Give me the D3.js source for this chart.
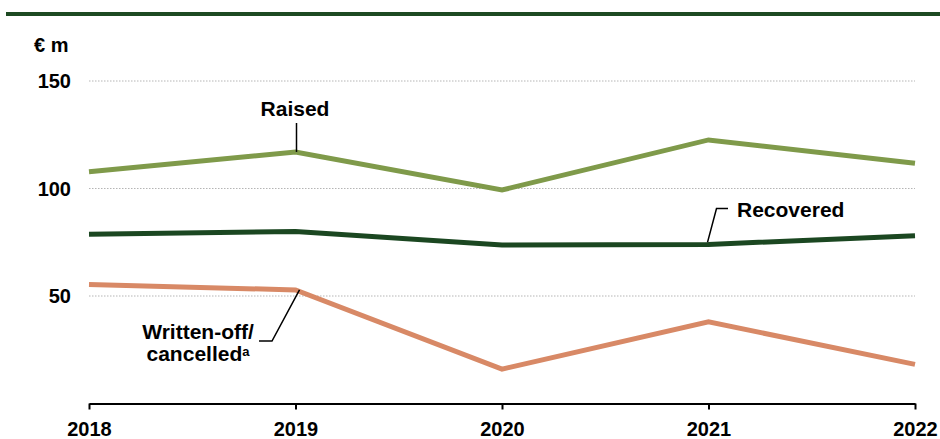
<!DOCTYPE html>
<html><head><meta charset="utf-8">
<script src="https://cdn.jsdelivr.net/npm/d3@7"></script>
<style>
body{margin:0;background:#fff;}
svg text{font-family:"Liberation Sans",Arial,sans-serif;font-weight:bold;fill:#000;}
</style></head>
<body><svg id="c" width="940" height="439"></svg>
<script>
const years = [2018, 2019, 2020, 2021, 2022];
const raised = [107.8, 117.0, 99.3, 122.6, 111.7];
const recovered = [78.7, 80.0, 73.7, 74.0, 78.0];
const writtenOff = [55.4, 52.8, 16.0, 38.0, 18.2];
const yTicks = [50, 100, 150];

const svg = d3.select("#c");
const x = d3.scaleLinear().domain([2018, 2022]).range([89, 915]);
const y = d3.scaleLinear().domain([0, 150]).range([403.5, 81]);

// top rule
svg.append("rect").attr("x", 6).attr("y", 12).attr("width", 934).attr("height", 4).attr("fill", "#1d4a22");

// unit label
svg.append("text").attr("x", 34).attr("y", 52).attr("font-size", 20).text("€ m");

// gridlines
svg.append("g").selectAll("line").data(yTicks).join("line")
  .attr("x1", 89).attr("x2", 915)
  .attr("y1", d => y(d)).attr("y2", d => y(d))
  .attr("stroke", "#b5b5b5").attr("stroke-width", 1).attr("stroke-dasharray", "1.5,1.5");

// y labels
svg.append("g").selectAll("text").data(yTicks).join("text")
  .attr("x", 71).attr("y", d => y(d) + 7).attr("text-anchor", "end")
  .attr("font-size", 20).text(d => d);

// x axis
const xAxis = d3.axisBottom(x).tickValues(years).tickFormat(d3.format("d")).tickSize(6).tickSizeOuter(0);
const gx = svg.append("g").attr("transform", `translate(0,${y(0)})`).call(xAxis);
gx.select(".domain").attr("stroke", "#000").attr("stroke-width", 2);
gx.selectAll(".tick line").attr("stroke", "#000").attr("stroke-width", 2);
gx.selectAll(".tick text").attr("font-size", 20).attr("y", 32.5).attr("dy", 0)
  .style("font-family", '"Liberation Sans",Arial,sans-serif').style("font-weight", "bold").attr("fill", "#000");

// lines
const line = d3.line().x((d, i) => x(years[i])).y(d => y(d));
const series = [
  {v: raised, c: "#7f9a4a"},
  {v: recovered, c: "#1b4721"},
  {v: writtenOff, c: "#d88966"}
];
svg.append("g").selectAll("path").data(series).join("path")
  .attr("d", d => line(d.v)).attr("fill", "none")
  .attr("stroke", d => d.c).attr("stroke-width", 5).attr("stroke-linejoin", "miter");

// labels and leaders
svg.append("text").attr("x", 295).attr("y", 116).attr("text-anchor", "middle").attr("font-size", 21).text("Raised");
svg.append("path").attr("d", `M${x(2019)+1},123 L${x(2019)+1},${y(raised[1])}`)
  .attr("stroke", "#000").attr("stroke-width", 1.5).attr("fill", "none");

svg.append("text").attr("x", 737).attr("y", 216.5).attr("font-size", 21).text("Recovered");
svg.append("path").attr("d", `M${x(2021)-1},${y(recovered[3])-2} L${x(2021)+8},208.5 L728,208.5`)
  .attr("stroke", "#000").attr("stroke-width", 1.5).attr("fill", "none");

const wt = svg.append("text").attr("text-anchor", "middle").attr("font-size", 21);
wt.append("tspan").attr("x", 198).attr("y", 339).text("Written-off/");
const l2 = wt.append("tspan").attr("x", 198).attr("y", 361);
l2.append("tspan").text("cancelled");
l2.append("tspan").attr("font-size", 13).attr("dy", -5).text("a");
svg.append("path").attr("d", `M${x(2019)+4},${y(writtenOff[1])} L272,341 L259,341`)
  .attr("stroke", "#000").attr("stroke-width", 1.5).attr("fill", "none");
</script></body></html>
